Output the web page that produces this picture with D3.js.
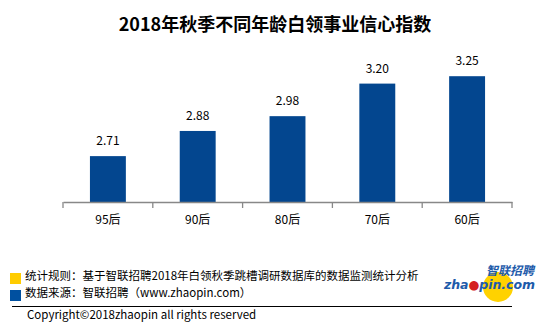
<!DOCTYPE html>
<html><head><meta charset="utf-8">
<script src="https://cdn.jsdelivr.net/npm/d3@7"></script>
<style>body{margin:0;background:#fff}svg{display:block}</style>
</head><body>
<script>
const categories = ["95后","90后","80后","70后","60后"];
const values = [2.71, 2.88, 2.98, 3.20, 3.25];
const title = "2018年秋季不同年龄白领事业信心指数";
const notes = ["统计规则：基于智联招聘2018年白领秋季跳槽调研数据库的数据监测统计分析","数据来源：智联招聘（www.zhaopin.com）"];
const copyright = "Copyright©2018zhaopin all rights reserved";

const W=555,H=330;
const svg=d3.select("body").append("svg").attr("width",W).attr("height",H);
const cjk='"Noto Sans CJK SC","Microsoft YaHei",sans-serif';

svg.append("text").attr("x",275).attr("y",31).attr("text-anchor","middle")
  .attr("font-family",cjk).attr("font-weight","bold").attr("font-size",18).attr("fill","#000").text(title);

const x=d3.scaleBand().domain(categories).range([63,512]).paddingInner(0.6).paddingOuter(0.3);
const y=d3.scaleLinear().domain([2.4,3.4]).range([202,54]);

svg.selectAll("rect.bar").data(values).join("rect").attr("class","bar")
  .attr("x",(d,i)=>x(categories[i])).attr("width",x.bandwidth())
  .attr("y",d=>y(d)).attr("height",d=>y(2.4)-y(d)).attr("fill","#03468F");

svg.selectAll("text.val").data(values).join("text").attr("class","val")
  .attr("x",(d,i)=>x(categories[i])+x.bandwidth()/2).attr("y",d=>y(d)-11)
  .attr("text-anchor","middle").attr("font-family",cjk).attr("font-size",12).attr("fill","#000")
  .text(d=>d.toFixed(2));

const xb=d3.scaleBand().domain(categories).range([63,512]);
const ax=svg.append("g").attr("transform","translate(0,202)")
  .call(d3.axisBottom(xb).tickSize(0).tickPadding(13));
ax.select(".domain").attr("stroke","#888").attr("stroke-width",1.3);
ax.selectAll("text").attr("font-family",cjk).attr("font-size",12).attr("fill","#000");
const edges=categories.map(c=>xb(c)).concat([xb(categories[categories.length-1])+xb.bandwidth()]);
svg.selectAll("line.tk").data(edges).join("line").attr("class","tk")
  .attr("x1",d=>d).attr("x2",d=>d).attr("y1",202).attr("y2",208).attr("stroke","#888").attr("stroke-width",1.3);

// footer
const sq=[["#FFCC00",273],["#0050A0",290]];
sq.forEach(s=>svg.append("rect").attr("x",10).attr("y",s[1]).attr("width",11).attr("height",11).attr("fill",s[0]));
svg.selectAll("text.note").data(notes).join("text").attr("class","note")
  .attr("x",25).attr("y",(d,i)=>280+i*17).attr("font-family",cjk).attr("font-size",11.5).attr("fill","#000").text(d=>d);
svg.append("line").attr("x1",12).attr("x2",512).attr("y1",306.5).attr("y2",306.5).attr("stroke","#000").attr("stroke-width",1);
svg.append("text").attr("x",27).attr("y",319).attr("font-family",cjk).attr("font-size",11.5).attr("fill","#000").text(copyright);

// logo
const lg=svg.append("g");
lg.append("circle").attr("cx",498).attr("cy",287).attr("r",15).attr("fill","#FFD200");
lg.append("text").attr("x",510).attr("y",275).attr("text-anchor","middle").attr("font-family",cjk)
  .attr("font-weight","bold").attr("font-style","italic").attr("font-size",12).attr("fill","#1E5BAA").text("智联招聘");
const zt=lg.append("text").attr("x",444).attr("y",289).attr("font-family",'"DejaVu Sans",sans-serif')
  .attr("font-weight","bold").attr("font-style","italic").attr("font-size",12.5).attr("fill","#1E5BAA").attr("textLength",91);
zt.append("tspan").text("zha");
zt.append("tspan").attr("fill","#D42020").text("●");
zt.append("tspan").text("pin.com");
</script>
</body></html>
